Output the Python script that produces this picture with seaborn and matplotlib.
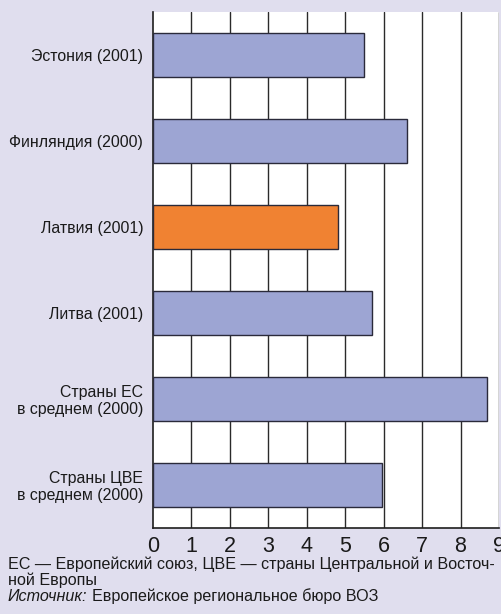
import matplotlib
matplotlib.use("Agg")
import matplotlib.pyplot as plt
import seaborn as sns
import pandas as pd

# data
countries = ["Эстония (2001)", "Финляндия (2000)", "Латвия (2001)", "Литва (2001)",
             "Страны ЕС\nв среднем (2000)", "Страны ЦВЕ\nв среднем (2000)"]
values = [5.5, 6.6, 4.8, 5.7, 8.7, 5.95]
bar_colors = ["#9DA5D3", "#9DA5D3", "#F08232", "#9DA5D3", "#9DA5D3", "#9DA5D3"]
xticks = list(range(10))

df = pd.DataFrame({"country": countries, "value": values})

sns.set_style("white")
plt.rcParams["font.family"] = ["Liberation Sans", "DejaVu Sans"]

bg = "#E0DEEE"
fig = plt.figure(figsize=(5.01, 6.14), dpi=100, facecolor=bg)
ax = fig.add_axes([153 / 501, 86 / 614, 346 / 501, 516 / 614])
ax.set_facecolor("white")

sns.barplot(data=df, y="country", x="value", hue="country", palette=bar_colors,
            saturation=1, legend=False, width=0.51, edgecolor="#2a2a3a",
            linewidth=1.0, orient="h", ax=ax, zorder=3)

ax.set_xlim(0, 9)
ax.set_ylim(len(countries) - 0.5, -0.5)
ax.set_xticks(xticks)
ax.set_xticklabels([str(t) for t in xticks], fontsize=15.5, color="#1a1a1a")
for x in xticks[1:]:
    ax.axvline(x, color="#2a2a2a", lw=1.0, zorder=1)

# labels at category centres, ticks at category boundaries
ax.set_yticks(range(len(countries)))
ax.set_yticklabels(countries, fontsize=11.4, ha="right", linespacing=1.15,
                   color="#1a1a1a")
ax.tick_params(axis="y", length=0, pad=7)
ax.set_yticks([i - 0.5 for i in range(len(countries))], minor=True)
ax.tick_params(axis="y", which="minor", length=4, width=1, direction="out", color="#222222")
ax.tick_params(axis="x", length=4, width=1, direction="out", color="#222222", pad=2)
ax.set_xlabel("")
ax.set_ylabel("")

for s in ["top", "right"]:
    ax.spines[s].set_visible(False)
for s in ["left", "bottom"]:
    ax.spines[s].set_color("#1e1e1e")
    ax.spines[s].set_linewidth(1.2)

fs = 11.6
x0 = 8 / 501
fig.text(x0, 1 - 569 / 614,
         "ЕС — Европейский союз, ЦВЕ — страны Центральной и Восточ-",
         fontsize=fs, va="baseline", ha="left", color="#1a1a1a")
fig.text(x0, 1 - 585 / 614, "ной Европы", fontsize=fs, va="baseline", ha="left",
         color="#1a1a1a")
src = fig.text(x0, 1 - 601 / 614, "Источник:", fontsize=fs, style="italic",
               va="baseline", ha="left", color="#1a1a1a")
fig.canvas.draw()
w = src.get_window_extent().width / fig.bbox.width
fig.text(x0 + w + 4 / 501, 1 - 601 / 614, "Европейское региональное бюро ВОЗ",
         fontsize=fs, va="baseline", ha="left", color="#1a1a1a")

fig.savefig("out.png", dpi=100, facecolor=bg)
